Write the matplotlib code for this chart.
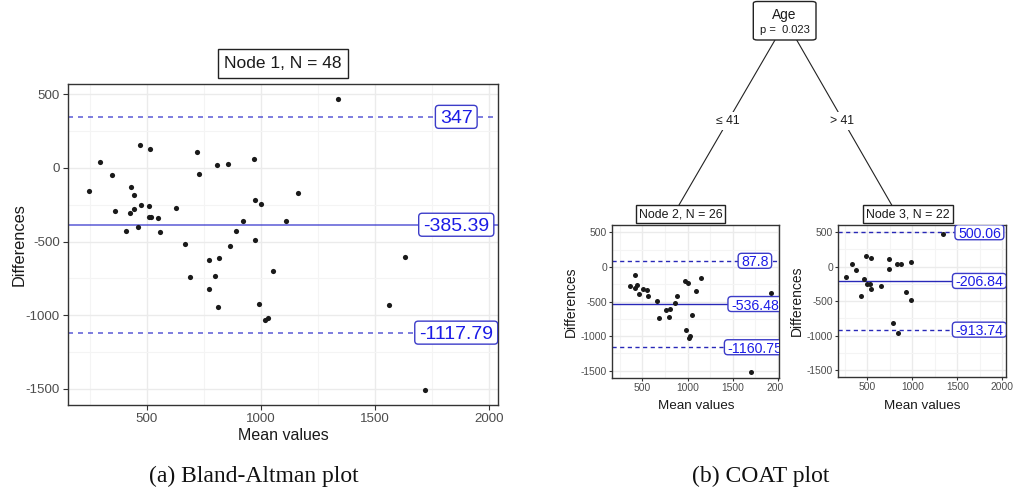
import matplotlib
matplotlib.use('Agg')
import matplotlib.pyplot as plt
import matplotlib.transforms as mtransforms
from matplotlib.patches import FancyBboxPatch, Rectangle
from matplotlib.lines import Line2D

W, H, DPI = 1015, 492, 100
SANS = ['Liberation Sans', 'DejaVu Sans']
SERIF = ['Liberation Serif', 'DejaVu Serif']

# ---------------- data ----------------
main_mean = [246, 297, 348, 362, 410, 432, 428, 446, 446, 471, 475, 464, 516, 509, 512, 517,
             551, 559, 628, 668, 688, 722, 729, 772, 772, 797, 809, 812, 816, 855, 865, 891,
             920, 971, 975, 975, 1000, 993, 1017, 1032, 1051, 1109, 1164, 1338, 1562, 1630,
             1717, 1926]
main_diff = [-156, 41, -50, -292, -428, -131, -308, -183, -280, 154, -251, -398, 127, -256, -330, -330,
             -342, -432, -274, -516, -742, 109, -38, -624, -821, -731, 23, -943, -613, 25, -527, -425,
             -360, 59, -217, -489, -244, -923, -1034, -1020, -697, -360, -172, 470, -927, -606,
             -1509, -383]
main_limits = [347, -385.39, -1117.79]
main_limit_labels = ['347', '-385.39', '-1117.79']
main_title = 'Node 1, N = 48'

node2_mean = [360, 423, 423, 445, 463, 507, 548, 559, 658, 687, 757, 794, 809, 864, 882,
              967, 1000, 982, 1015, 1026, 1044, 1099, 1151, 1702, 1926]
node2_diff = [-282, -121, -301, -267, -393, -320, -330, -427, -495, -738, -616, -728, -602, -515, -417,
              -204, -228, -917, -1024, -1000, -689, -354, -155, -1514, -383]
node2_limits = [87.8, -536.48, -1160.75]
node2_limit_labels = ['87.8', '-536.48', '-1160.75']
node2_title = 'Node 2, N = 26'

node3_mean = [266, 325, 372, 434, 463, 489, 500, 529, 537, 540, 650, 741, 741, 825, 872,
              934, 982, 989, 785, 836, 1343]
node3_diff = [-155, 44, -44, -422, -180, 155, -252, -252, 131, -325, -282, 116, -34, 34, 34,
              -364, 68, -485, -820, -956, 471]
node3_limits = [500.06, -206.84, -913.74]
node3_limit_labels = ['500.06', '-206.84', '-913.74']
node3_title = 'Node 3, N = 22'

x_ticks = [500, 1000, 1500, 2000]
y_ticks = [-1500, -1000, -500, 0, 500]
x_minor = [250, 750, 1250, 1750]
y_minor = [-1250, -750, -250, 250]

split_var = 'Age'
split_p = 'p =  0.023'
split_left = '\u2264 41'
split_right = '> 41'
captions = ['(a) Bland-Altman plot', '(b) COAT plot']

TXT = '#1c1ce6'
BOXEDGE = '#3c3cc8'
TICKC = '#4d4d4d'
BORDER = '#333333'

fig = plt.figure(figsize=(W / DPI, H / DPI), dpi=DPI)
fig.patch.set_facecolor('white')


def fx(px):
    return px / W


def fy(py):
    return 1 - py / H


def add_axes_px(l, t, r, b):
    return fig.add_axes([fx(l), fy(b), (r - l) / W, (b - t) / H])


def style_axes(ax, xlim, ylim, tick_fs, ticklen, pad):
    ax.set_xlim(*xlim)
    ax.set_ylim(*ylim)
    ax.set_xticks(x_ticks)
    ax.set_yticks(y_ticks)
    ax.set_xticks(x_minor, minor=True)
    ax.set_yticks(y_minor, minor=True)
    ax.set_xticklabels([str(v) for v in x_ticks], fontsize=tick_fs, color=TICKC, family=SANS)
    ax.set_yticklabels([str(v) for v in y_ticks], fontsize=tick_fs, color=TICKC, family=SANS)
    ax.tick_params(which='major', length=ticklen, width=0.8, color=BORDER, pad=pad)
    ax.tick_params(which='minor', length=0)
    ax.grid(which='major', color='#ebebeb', lw=1.0)
    ax.grid(which='minor', color='#f4f4f4', lw=0.8)
    ax.set_axisbelow(True)
    for s in ax.spines.values():
        s.set_color(BORDER)
        s.set_linewidth(1.0)


def limit_label(ax, x, y, s, fs, padx, h):
    t = ax.text(x, y, s, fontsize=fs, color=TXT, ha='center', va='center_baseline',
                family=SANS, zorder=6, clip_on=True)
    r = fig.canvas.get_renderer()
    bb = t.get_window_extent(r)
    w = bb.width + 2 * padx
    trans = fig.dpi_scale_trans + mtransforms.ScaledTranslation(x, y, ax.transData)
    p = FancyBboxPatch((-w / 2 / DPI, -h / 2 / DPI), w / DPI, h / DPI,
                       boxstyle='round,pad=0,rounding_size=0.035', transform=trans,
                       fc='white', ec=BOXEDGE, lw=1.0, zorder=5)
    ax.add_artist(p)
    p.set_clip_path(ax.patch)


def strip_box(l, t, r, b, s, fs, rounded=False):
    if rounded:
        p = FancyBboxPatch((fx(l), fy(b)), (r - l) / W, (b - t) / H,
                           boxstyle='round,pad=0,rounding_size=0.004', transform=fig.transFigure,
                           fc='white', ec='#222222', lw=1.0, zorder=5)
    else:
        p = Rectangle((fx(l), fy(b)), (r - l) / W, (b - t) / H, transform=fig.transFigure,
                      fc='white', ec='#222222', lw=1.0, zorder=5)
    fig.patches.append(p)
    if s:
        fig.text(fx((l + r) / 2), fy((t + b) / 2), s, fontsize=fs, ha='center', va='center',
                 color='#1a1a1a', family=SANS, zorder=6)


# ---------------- (a) main Bland-Altman ----------------
ax = add_axes_px(68.3, 84, 498.3, 405)
style_axes(ax, (157, 2039), (-1609, 570), 9.6, 3.5, 2.5)
ax.scatter(main_mean, main_diff, s=14, color='#1a1a1a', zorder=3, linewidths=0)
for v, ls in zip(main_limits, ['--', '-', '--']):
    ax.axhline(v, color='#2020c8', alpha=0.68, lw=1.2, ls=ls, dashes=(3, 3) if ls == '--' else (None, None), zorder=2)
for v, s in zip(main_limits, main_limit_labels):
    limit_label(ax, 1855, v, s, 14, 4.5, 23)
strip_box(218, 49.3, 348, 78.3, main_title, 12.5)
fig.text(fx(24), fy(244.5), 'Differences', rotation=90, rotation_mode='anchor', ha='center',
         va='baseline', fontsize=11.8, family=SANS, color='#1a1a1a')
fig.text(fx(283.3), fy(440), 'Mean values', ha='center', va='baseline', fontsize=11.5,
         family=SANS, color='#1a1a1a')

# ---------------- (b) COAT nodes ----------------
nodes = [
    (node2_mean, node2_diff, node2_limits, node2_limit_labels, node2_title,
     (612.3, 225, 779.3, 378), (168, 2015), (636, 205, 725, 223.3)),
    (node3_mean, node3_diff, node3_limits, node3_limit_labels, node3_title,
     (838.3, 225, 1006.3, 377.3), (178, 2044), (862.7, 205, 952.7, 223.3)),
]
for mx, dy, lims, labs, title, (l, t, r, b), xl, (sl, st, sr, sb) in nodes:
    a = add_axes_px(l, t, r, b)
    style_axes(a, xl, (-1605, 605), 7.4, 2.2, 1.5)
    a.scatter(mx, dy, s=13, color='#1a1a1a', zorder=3, linewidths=0)
    for v, ls in zip(lims, ['--', '-', '--']):
        a.axhline(v, color='#1c1cb4', alpha=0.95, lw=1.0, ls=ls, dashes=(3, 2.5) if ls == '--' else (None, None), zorder=2)
    for v, s in zip(lims, labs):
        limit_label(a, 1745, v, s, 10.2, 3.0, 15)
    strip_box(sl, st, sr, sb, title, 8.9)
    fig.text(fx(l - 37.3), fy((t + b) / 2), 'Differences', rotation=90, rotation_mode='anchor',
             ha='center', va='baseline', fontsize=10.0, family=SANS, color='#1a1a1a')
    fig.text(fx((l + r) / 2), fy(409), 'Mean values', ha='center', va='baseline', fontsize=9.7,
             family=SANS, color='#1a1a1a')

# mask overlap of node 2 tick label with node 3 region
fig.patches.append(Rectangle((fx(783), fy(400)), 6 / W, 25 / H, transform=fig.transFigure,
                             fc='white', ec='none', zorder=7))

# ---------------- tree ----------------
fig.add_artist(Line2D([fx(775), fx(679)], [fy(40), fy(205)], color='#222222', lw=0.8, zorder=1))
fig.add_artist(Line2D([fx(796.7), fx(891.7)], [fy(40), fy(205)], color='#222222', lw=0.8, zorder=1))
fig.text(fx(727.5), fy(121), split_left, ha='center', va='center', fontsize=8.8, family=SANS,
         color='#1a1a1a', zorder=4, bbox=dict(fc='white', ec='none', pad=2.5))
fig.text(fx(841.5), fy(121), split_right, ha='center', va='center', fontsize=8.8, family=SANS,
         color='#1a1a1a', zorder=4, bbox=dict(fc='white', ec='none', pad=2.5))
strip_box(753.3, 1.5, 816, 40, None, 9, rounded=True)
fig.text(fx(784.6), fy(14.5), split_var, ha='center', va='center', fontsize=9.9, family=SANS,
         color='#1a1a1a', zorder=6)
fig.text(fx(784.6), fy(30), split_p, ha='center', va='center', fontsize=8.0, family=SANS,
         color='#1a1a1a', zorder=6)

# ---------------- captions ----------------
fig.text(fx(253.5), fy(476), captions[0], ha='center', va='center', fontsize=17, family=SERIF,
         color='#111111')
fig.text(fx(761), fy(476), captions[1], ha='center', va='center', fontsize=17, family=SERIF,
         color='#111111')

fig.savefig('out.png', dpi=DPI, facecolor='white')
